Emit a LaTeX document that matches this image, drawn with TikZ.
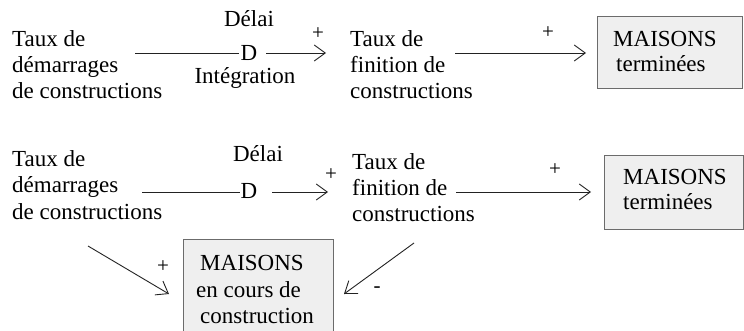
\documentclass[tikz,border=0pt]{standalone}
\usepackage{fontspec}
\setmainfont{Liberation Serif}
\usetikzlibrary{arrows.meta}
\definecolor{boxfill}{HTML}{EFEFEF}
\definecolor{boxline}{HTML}{6B6B6B}
\definecolor{inkline}{HTML}{222222}
\tikzset{
  txt/.style={inner sep=0pt, anchor=base west, font=\fontsize{23}{25.7}\selectfont},
  ctxt/.style={inner sep=0pt, anchor=base, font=\fontsize{23}{25.7}\selectfont},
  sgn/.style={inner sep=0pt, anchor=center, font=\fontsize{21}{24}\selectfont},
  conn/.style={draw=inkline, line width=0.9pt},
  arr/.style={conn, -{Straight Barb[length=11pt,width=16pt,line width=0.9pt]}},
  stockbox/.style={fill=boxfill, draw=boxline, line width=1pt}
}
\newcommand{\mlines}[2][25.7pt]{\vtop{\baselineskip=#1\halign{##\hfil\cr#2\crcr}}}
\begin{document}
\begin{tikzpicture}[x=1pt,y=-1pt]
\useasboundingbox (0,0) rectangle (744,331);
% ---------- Row 1 ----------
\node[txt] (a1) at (12,47) {\mlines{Taux de\cr démarrages\cr de constructions}};
\node[ctxt] (delai1) at (249,27) {Délai};
\node[ctxt] (d1) at (249,61) {D};
\node[ctxt] (integ) at (245,84) {Intégration};
\coordinate (l1s) at (135,53);
\coordinate (l1e) at (239,53);
\coordinate (r1s) at (266,53);
\coordinate (r1e) at (326,53);
\draw[conn] (l1s) -- (l1e);
\draw[arr] (r1s) -- (r1e);
\node[sgn] (p1) at (318,34) {+};
\node[txt] (b1) at (350,47) {\mlines{Taux de\cr finition de\cr constructions}};
\coordinate (s1s) at (455,53);
\coordinate (s1e) at (586,53);
\draw[arr] (s1s) -- (s1e);
\node[sgn] (p2) at (548,33) {+};
\draw[stockbox] (597,17) rectangle (742,89);
\node[txt] (m1) at (613,47) {MAISONS};
\node[txt] (t1) at (616,72) {terminées};
% ---------- Row 2 ----------
\node[txt] (a2) at (12,166.5) {\mlines[26.5pt]{Taux de\cr démarrages\cr de constructions}};
\node[ctxt] (delai2) at (258,162) {Délai};
\node[ctxt] (d2) at (249,199) {D};
\coordinate (l2s) at (142,192);
\coordinate (l2e) at (240,192);
\coordinate (r2s) at (272,192);
\coordinate (r2e) at (328,192);
\draw[conn] (l2s) -- (l2e);
\draw[arr] (r2s) -- (r2e);
\node[sgn] (p3) at (331,175) {+};
\node[txt] (b2) at (352,170) {\mlines[26pt]{Taux de\cr finition de\cr constructions}};
\coordinate (s2s) at (456,192);
\coordinate (s2e) at (591,192);
\draw[arr] (s2s) -- (s2e);
\node[sgn] (p4) at (555,170) {+};
\draw[stockbox] (604,156) rectangle (743.5,229);
\node[txt] (m2) at (623,185) {MAISONS};
\node[txt] (t2) at (623,210) {terminées};
% ---------- Stock en cours ----------
\fill[boxfill] (183,239) rectangle (333,340);
\draw[boxline, line width=1pt] (183,340) -- (183,239) -- (333,239) -- (333,340);
\node[txt] (m3) at (200,270) {MAISONS};
\node[txt] (e3) at (196,297) {en cours de};
\node[txt] (c3) at (200,323) {construction};
\coordinate (i1s) at (88,246);
\coordinate (i1e) at (169,294);
\draw[arr] (i1s) -- (i1e);
\node[sgn] (p5) at (163,267) {+};
\coordinate (o1s) at (414,243);
\coordinate (o1e) at (344,294);
\draw[arr] (o1s) -- (o1e);
\node[sgn] (m5) at (377,290) {-};
\end{tikzpicture}
\end{document}
